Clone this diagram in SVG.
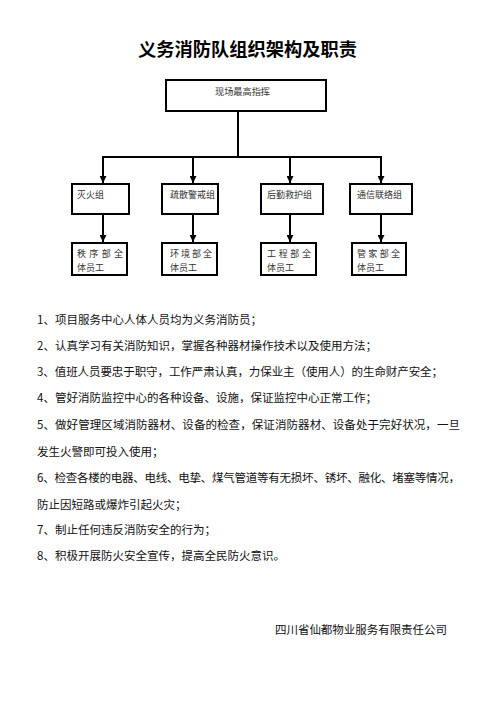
<svg xmlns="http://www.w3.org/2000/svg" width="496" height="702" viewBox="0 0 496 702">
<style>
.box{fill:#fff;stroke:#000;stroke-width:2}
.lbl{font-family:"Noto Sans CJK SC","Noto Sans",sans-serif;font-size:9px;fill:#333}
.body{font-family:"Noto Sans CJK SC","Noto Sans",sans-serif;font-size:11.5px;fill:#111}
.title{font-family:"Noto Sans CJK SC",sans-serif;font-size:18px;font-weight:bold;fill:#000}
.con{stroke:#000;stroke-width:2;fill:none}
</style>
<defs>
<marker id="ah" viewBox="0 0 8 8" refX="8" refY="4" markerWidth="3.5" markerHeight="3.5" orient="auto" markerUnits="strokeWidth">
<path d="M0,0 L8,4 L0,8 Z" fill="#000"/>
</marker>
</defs>
<rect width="496" height="702" fill="#fff"/>
<text class="title" x="138" y="56" textLength="219" lengthAdjust="spacingAndGlyphs">义务消防队组织架构及职责</text>

<g id="connectors">
<line class="con" x1="238" y1="111" x2="238" y2="157"/>
<line class="con" x1="102" y1="157" x2="382" y2="157"/>
<line class="con" x1="103" y1="157" x2="103" y2="183" marker-end="url(#ah)"/>
<line class="con" x1="193" y1="157" x2="193" y2="183" marker-end="url(#ah)"/>
<line class="con" x1="290" y1="157" x2="290" y2="183" marker-end="url(#ah)"/>
<line class="con" x1="381" y1="157" x2="381" y2="183" marker-end="url(#ah)"/>
<line class="con" x1="103" y1="214" x2="103" y2="242" marker-end="url(#ah)"/>
<line class="con" x1="193" y1="214" x2="193" y2="242" marker-end="url(#ah)"/>
<line class="con" x1="290" y1="214" x2="290" y2="242" marker-end="url(#ah)"/>
<line class="con" x1="381" y1="214" x2="381" y2="242" marker-end="url(#ah)"/>
</g>

<g id="top"><rect class="box" x="166" y="80" width="160" height="31"/><text class="lbl" x="215" y="95" textLength="55" lengthAdjust="spacingAndGlyphs">现场最高指挥</text></g>

<g id="g1"><rect class="box" x="72" y="184" width="57" height="30"/><text class="lbl" x="77" y="198">灭火组</text></g>
<g id="g2"><rect class="box" x="162" y="184" width="56" height="30"/><text class="lbl" x="170" y="198">疏散警戒组</text></g>
<g id="g3"><rect class="box" x="261" y="184" width="62" height="30"/><text class="lbl" x="267" y="198">后勤救护组</text></g>
<g id="g4"><rect class="box" x="350" y="184" width="62" height="30"/><text class="lbl" x="357" y="198">通信联络组</text></g>

<g id="s1"><rect class="box" x="72" y="243" width="55" height="32"/><text class="lbl" x="77" y="257" textLength="46" lengthAdjust="spacing">秩序部全</text><text class="lbl" x="77" y="271">体员工</text></g>
<g id="s2"><rect class="box" x="162" y="243" width="55" height="32"/><text class="lbl" x="170" y="257" textLength="42" lengthAdjust="spacing">环境部全</text><text class="lbl" x="170" y="271">体员工</text></g>
<g id="s3"><rect class="box" x="261" y="243" width="55" height="32"/><text class="lbl" x="267" y="257" textLength="44" lengthAdjust="spacing">工程部全</text><text class="lbl" x="267" y="271">体员工</text></g>
<g id="s4"><rect class="box" x="352" y="243" width="54" height="32"/><text class="lbl" x="357" y="257" textLength="43" lengthAdjust="spacing">管家部全</text><text class="lbl" x="357" y="271">体员工</text></g>

<g id="body">
<text class="body" x="37" y="324">1、项目服务中心人体人员均为义务消防员；</text>
<text class="body" x="37" y="350">2、认真学习有关消防知识，掌握各种器材操作技术以及使用方法；</text>
<text class="body" x="37" y="376" textLength="406" lengthAdjust="spacing">3、值班人员要忠于职守，工作严肃认真，力保业主（使用人）的生命财产安全；</text>
<text class="body" x="37" y="402">4、管好消防监控中心的各种设备、设施，保证监控中心正常工作；</text>
<text class="body" x="37" y="429" textLength="423" lengthAdjust="spacing">5、做好管理区域消防器材、设备的检查，保证消防器材、设备处于完好状况，一旦</text>
<text class="body" x="37" y="456">发生火警即可投入使用；</text>
<text class="body" x="37" y="482" textLength="423" lengthAdjust="spacing">6、检查各楼的电器、电线、电挚、煤气管道等有无损坏、锈坏、融化、堵塞等情况，</text>
<text class="body" x="37" y="509">防止因短路或爆炸引起火灾；</text>
<text class="body" x="37" y="534">7、制止任何违反消防安全的行为；</text>
<text class="body" x="37" y="560">8、积极开展防火安全宣传，提高全民防火意识。</text>
<text class="body" x="275" y="634" textLength="172" lengthAdjust="spacing">四川省仙都物业服务有限责任公司</text>
</g>
</svg>
